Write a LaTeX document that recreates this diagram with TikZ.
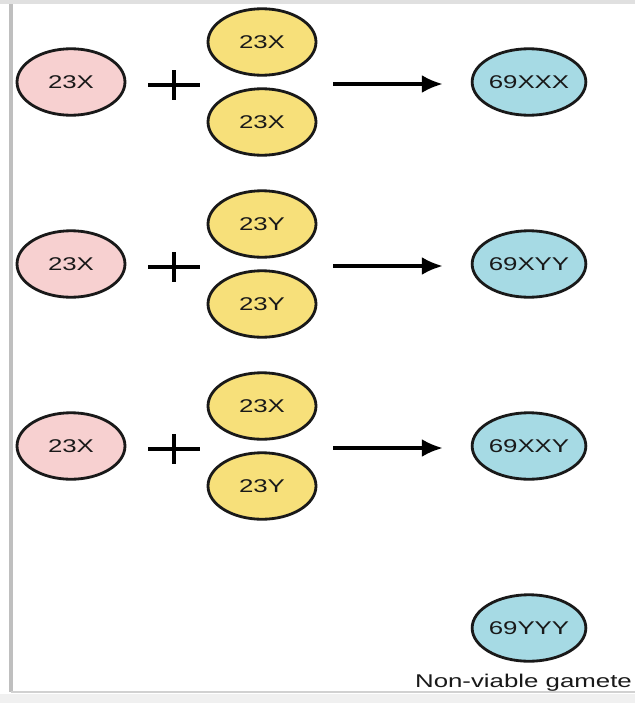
\documentclass[tikz,border=0pt]{standalone}
\usepackage{fontspec}
\setmainfont{Liberation Sans}[FakeStretch = 1.4]
\usetikzlibrary{shapes.geometric, arrows.meta}

\definecolor{eggpink}{RGB}{247, 208, 208}
\definecolor{spermyellow}{RGB}{247, 224, 122}
\definecolor{zygoteblue}{RGB}{166, 218, 228}

\begin{document}
\begin{tikzpicture}[x = 0.02cm, y = -0.02cm, > = {Latex[length = 0.42cm, width = 0.36cm]}, font = \fontsize{10.5}{12}\selectfont, text = black!90]

	% Styles
	
	\tikzset{
		cell/.style = {ellipse, draw = black!90, line width = 1.6pt, minimum width = 2.16cm, minimum height = 1.33cm, inner sep = 0pt},
		egg/.style = {cell, fill = eggpink},
		sperm/.style = {cell, fill = spermyellow},
		zygote/.style = {cell, fill = zygoteblue}
	}
	
	\useasboundingbox (0, 0) rectangle (635, 703);
	
	% Frame
	
	\fill [black!12] (0, 0) rectangle (635, 4);
	\draw [black!25, line width = 2pt] (11, 4) -- (11, 692);
	\draw [black!18, line width = 1pt] (11, 692) -- (635, 692);
	\fill [black!6] (0, 694) rectangle (635, 703);
	
	% Draw rows: egg + two sperm -> triploid zygote
	
	\foreach \n/\y/\sa/\sb/\z in {1/82/23X/23X/69XXX, 2/264/23Y/23Y/69XYY, 3/446/23X/23Y/69XXY}
	{
		\node [egg] (egg\n) at (71, \y) {23X};
		\node [sperm] (spa\n) at (262, \y - 40) {\sa};
		\node [sperm] (spb\n) at (262, \y + 40) {\sb};
		\node [zygote] (zyg\n) at (529, \y) {\z};
		
		\coordinate (plus\n) at (174, \y + 3);
		\draw [line width = 1.8pt] (plus\n) ++(-26, 0) -- ++(52, 0) (plus\n) ++(0, -15) -- ++(0, 30);
		
		\coordinate (from\n) at (333, \y + 2);
		\draw [->, line width = 1.8pt, shorten > = 0.56cm] (from\n) -- (from\n -| zyg\n.west);
	}
	
	% Non-viable one
	
	\node [zygote] (zyg4) at (529, 628) {69YYY};
	\node [anchor = east, inner sep = 1pt] (note) at (634, 683) {Non-viable gamete};
	
\end{tikzpicture}
\end{document}
